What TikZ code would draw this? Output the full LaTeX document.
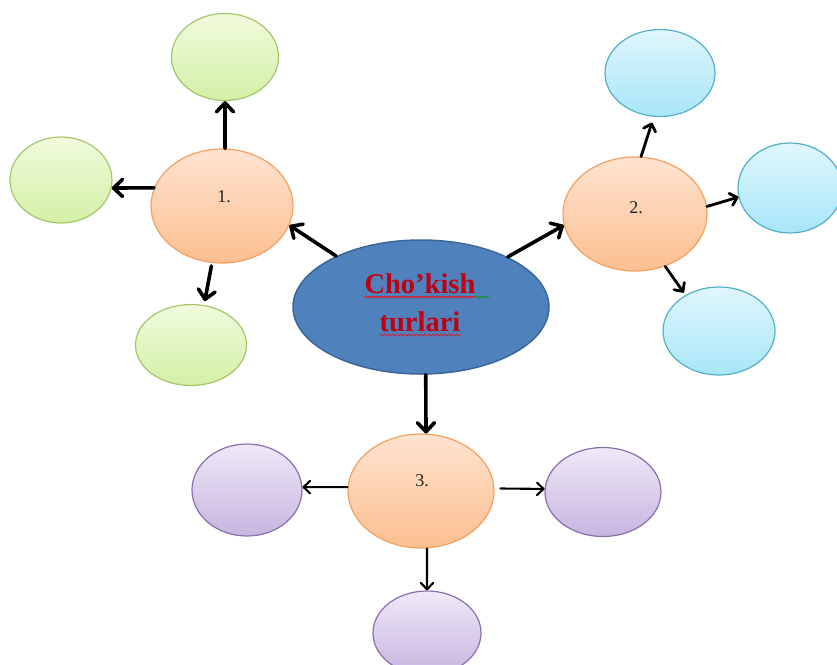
\documentclass[tikz,border=0pt]{standalone}
\usepackage{fontspec}
\setmainfont{Liberation Serif}
\usetikzlibrary{shapes.geometric,arrows.meta,calc,decorations.pathmorphing}

\definecolor{hubfill}{HTML}{4F81BD}
\definecolor{hubline}{HTML}{3A6698}
\definecolor{orangetop}{HTML}{FFE3D0}
\definecolor{orangebot}{HTML}{FCBF90}
\definecolor{orangeline}{HTML}{F4A060}
\definecolor{greentop}{HTML}{F0FBDC}
\definecolor{greenbot}{HTML}{D3F0A6}
\definecolor{greenline}{HTML}{A6C56A}
\definecolor{cyantop}{HTML}{E0F6FC}
\definecolor{cyanbot}{HTML}{A8E6F8}
\definecolor{cyanline}{HTML}{52AFC8}
\definecolor{violettop}{HTML}{EEE9F7}
\definecolor{violetbot}{HTML}{C8B5E0}
\definecolor{violetline}{HTML}{8A6FAE}
\definecolor{titlered}{HTML}{BE0010}
\definecolor{numgray}{HTML}{222222}

\begin{document}
\begin{tikzpicture}[x=1pt,y=-1pt,
  bubble/.style={ellipse, inner sep=0pt, line width=1.2pt},
  hub/.style={bubble, draw=orangeline, top color=orangetop, bottom color=orangebot,
              minimum width=144pt, minimum height=114pt},
  greenleaf/.style={bubble, draw=greenline, top color=greentop, bottom color=greenbot},
  cyanleaf/.style={bubble, draw=cyanline, top color=cyantop, bottom color=cyanbot},
  violetleaf/.style={bubble, draw=violetline, top color=violettop, bottom color=violetbot},
  numlabel/.style={font=\fontsize{18}{18}\selectfont, text=numgray},
  titletext/.style={font=\fontsize{28.5}{28.5}\selectfont\bfseries, text=titlered, inner sep=0pt, anchor=base},
  bigtip/.style={-{Straight Barb[length=9pt,width=17pt,round]}, line cap=round, line join=round},
  smalltip/.style={-{Straight Barb[length=6.5pt,width=12.5pt,round]}, line cap=round, line join=round},
  heavylink/.style={bigtip, line width=3.6pt},
  midlink/.style={smalltip, line width=2.8pt},
  thinlink/.style={smalltip, line width=2.1pt},
  squiggle/.style={decorate, decoration={snake, amplitude=1pt, segment length=4pt}, line width=0.6pt}
]
\useasboundingbox (0,0) rectangle (837,664);
\clip (0,0) rectangle (837,664);

% central bubble with its title
\node[bubble, draw=hubline, fill=hubfill, line width=1.5pt,
      minimum width=256pt, minimum height=134pt] (core) at (421,307) {};
\node[titletext] (title1) at (420,293) {Cho’kish};
\node[titletext] (title2) at (420,331) {turlari};
\draw[squiggle, red] ($(title1.base west)+(0,4)$) -- ($(title1.base east)+(0,4)$);
\draw[squiggle, green!60!black] ($(title1.base east)+(0,4)$) -- ($(title1.base east)+(14,4)$);
\draw[squiggle, red] ($(title2.base west)+(0,4)$) -- ($(title2.base east)+(0,4)$);

% three numbered hubs
\node[hub, minimum width=142pt] (h1) at (222,206) {};
\node[hub] (h2) at (635,214) {};
\node[hub, minimum width=146pt] (h3) at (421,491) {};
\node[numlabel] (n1) at (224,197) {1.};
\node[numlabel] (n2) at (636,208) {2.};
\node[numlabel] (n3) at (422,481) {3.};

% green leaves of hub 1
\node[greenleaf, minimum width=107pt, minimum height=87pt] (g1) at (225,57) {};
\node[greenleaf, minimum width=102pt, minimum height=86pt] (g2) at (61,180) {};
\node[greenleaf, minimum width=111pt, minimum height=81pt] (g3) at (191,345) {};

% cyan leaves of hub 2
\node[cyanleaf, minimum width=110pt, minimum height=87pt] (c1) at (660,73) {};
\node[cyanleaf, minimum width=104pt, minimum height=90pt] (c2) at (790,188) {};
\node[cyanleaf, minimum width=112pt, minimum height=88pt] (c3) at (719,331) {};

% violet leaves of hub 3
\node[violetleaf, minimum width=110pt, minimum height=92pt] (v1) at (247,490) {};
\node[violetleaf, minimum width=116pt, minimum height=89pt] (v2) at (603,492) {};
\node[violetleaf, minimum width=108pt, minimum height=84pt] (v3) at (427,633) {};

% connectors from the centre
\draw[heavylink] (core.149) -- (h1.344);
\draw[heavylink] (core.30) -- (h2.189);
\draw[heavylink] (core.274) -- (h3.85);

% hub 1 to its leaves
\draw[heavylink] (h1.87) -- (g1.270);
\draw[heavylink] (h1.165) -- (g2.351);
\draw[heavylink, shorten <=3pt, shorten >=4pt] (h1.260) -- (g3.72);

% hub 2 to its leaves
\draw[midlink, shorten >=6pt] (h2.84) -- (c1.262);
\draw[midlink] (h2.6) -- (c2.190);
\draw[midlink, shorten >=3pt] (h2.300) -- (c3.133);

% hub 3 to its leaves
\draw[thinlink] (h3.177) -- (v1.3);
\draw[thinlink, shorten <=6pt] (h3.2) -- (v2.177);
\draw[thinlink] (h3.276) -- (v3.90);
\end{tikzpicture}
\end{document}
